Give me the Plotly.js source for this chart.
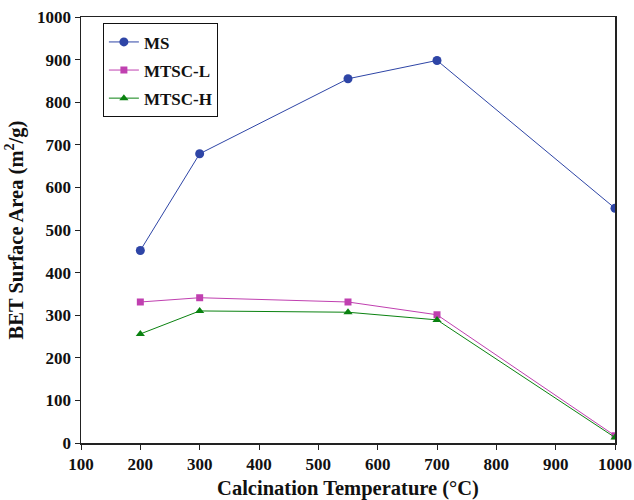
<!DOCTYPE html>
<html><head><meta charset="utf-8">
<script src="https://cdn.plot.ly/plotly-3.0.1.min.js"></script>
<style>body{margin:0;padding:0;background:#fff}</style>
</head><body>
<div id="chart" style="width:634px;height:500px"></div>
<script>
const temps = [200, 300, 550, 700, 1000];
const msVals = [452, 679, 855, 898, 551];
const mtscLVals = [331, 341, 331, 301, 17];
const mtscHVals = [256, 310, 307, 289, 13];
const seriesNames = ['MS', 'MTSC-L', 'MTSC-H'];
const xTicks = [100,200,300,400,500,600,700,800,900,1000];
const yTicks = [0,100,200,300,400,500,600,700,800,900,1000];

const fam = '"Liberation Serif", "Times New Roman", serif';
const b = s => '<b>' + s + '</b>';
const traces = [
  {x: temps, y: msVals, name: b(seriesNames[0]), legendgroup:'a', mode:'lines+markers',
   line:{color:'#2E45A6', width:1}, marker:{symbol:'circle', size:9, color:'#2E45A6'}},
  {x: temps, y: mtscLVals, name: b(seriesNames[1]), legendgroup:'b', mode:'lines+markers',
   line:{color:'#C040B0', width:1}, marker:{symbol:'square', size:7, color:'#C040B0'}},
  {x: temps, y: mtscHVals, name: b(seriesNames[2]), legendgroup:'c', mode:'lines+markers',
   line:{color:'#0A8210', width:1}, marker:{symbol:'triangle-up', size:8, color:'#0A8210'}}
];
const layout = {
  width:634, height:500,
  margin:{l:81, r:19, t:17, b:57},
  paper_bgcolor:'#fff', plot_bgcolor:'#fff',
  font: {family: fam, color:'#111'},
  showlegend:true,
  legend:{x:0.041, y:0.985, xanchor:'left', yanchor:'top', bgcolor:'#fff',
    bordercolor:'#111', borderwidth:1, font:{family:fam, size:17, color:'#111'},
    traceorder:'grouped', tracegroupgap:3},
  xaxis:{range:[100,1000], tickvals:xTicks, ticktext:xTicks.map(v=>b(v)), showgrid:false, zeroline:false,
    showline:true, linecolor:'#222', linewidth:1.5, mirror:true, ticks:'outside', ticklen:5, tickcolor:'#222',
    tickfont:{family:fam, size:17, color:'#111'},
    title:{text:b('Calcination Temperature (°C)'), font:{family:fam, size:20.5, color:'#111'}, standoff:9}},
  yaxis:{range:[0,1000], tickvals:yTicks, ticktext:yTicks.map(v=>b(v)), showgrid:false, zeroline:false,
    showline:true, linecolor:'#222', linewidth:1.5, mirror:true, ticks:'outside', ticklen:5, tickcolor:'#222',
    tickfont:{family:fam, size:17, color:'#111'},
    title:{text:b('BET Surface Area (m<sup>2</sup>/g)'), font:{family:fam, size:20.5, color:'#111'}, standoff:8}}
};
Plotly.newPlot('chart', traces, layout, {displayModeBar:false, staticPlot:true});
</script>
</body></html>
